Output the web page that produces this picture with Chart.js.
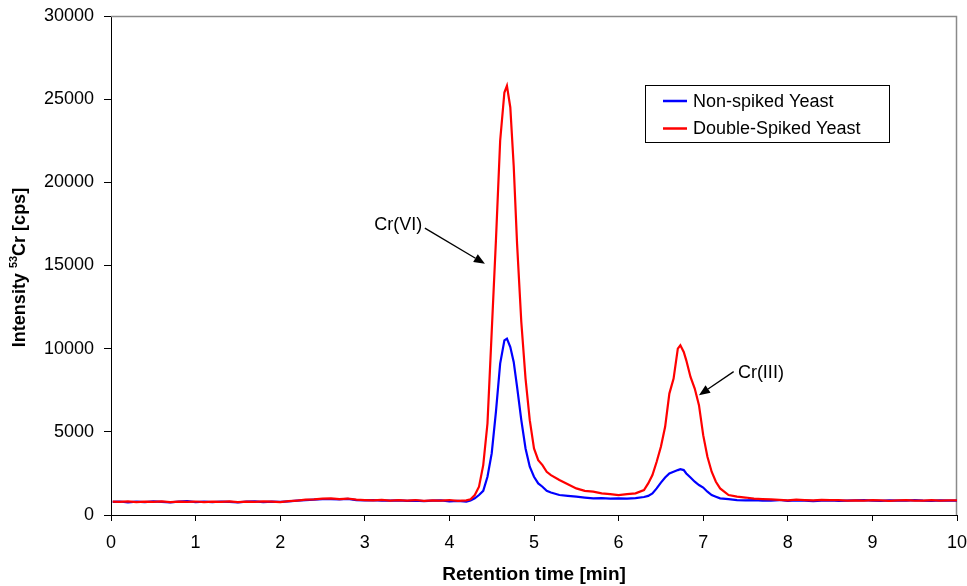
<!DOCTYPE html>
<html>
<head>
<meta charset="utf-8">
<script src="https://cdn.jsdelivr.net/npm/chart.js@4/dist/chart.umd.min.js"></script>
<style>
  html, body { margin: 0; padding: 0; background: #ffffff; }
  #wrap { width: 967px; height: 586px; position: relative; }
</style>
</head>
<body>
<div id="wrap"><canvas id="c" width="967" height="586"></canvas></div>
<script>
// ---- data (retention time in min, intensity in cps) ----
const times = [
  0.02,0.1,0.2,0.3,0.4,0.5,0.6,0.7,0.8,0.9,
  1.0,1.1,1.2,1.3,1.4,1.5,1.6,1.7,1.8,1.9,
  2.0,2.1,2.2,2.3,2.4,2.5,2.6,2.7,2.8,2.9,
  3.0,3.1,3.2,3.3,3.4,3.5,3.6,3.7,3.8,3.9,
  4.0,4.1,4.2,
  4.25,4.3,4.35,4.4,4.45,4.5,4.55,4.6,4.65,4.68,4.72,4.76,
  4.8,4.85,4.9,4.95,5.0,5.05,5.1,5.15,5.2,
  5.3,5.4,5.5,5.6,5.7,5.8,5.9,6.0,6.1,6.2,6.3,
  6.35,6.4,6.45,6.5,6.55,6.6,6.65,6.7,6.73,6.77,6.8,6.85,6.9,6.95,7.0,7.05,7.1,7.15,7.2,7.3,7.4,
  7.5,7.6,7.7,7.8,7.9,8.0,8.1,8.2,8.3,8.4,
  8.5,8.6,8.7,8.8,8.9,9.0,9.1,9.2,9.3,9.4,
  9.5,9.6,9.7,9.8,9.9,10.0
];
const nonSpiked = [
  790,810,760,800,770,820,790,760,800,830,
  780,800,770,810,790,760,800,820,780,800,
  790,820,860,900,920,950,960,940,970,900,
  880,900,870,860,880,850,870,840,860,880,
  820,850,800,
  880,1000,1200,1450,2300,3700,6200,9100,10500,10600,10100,9200,
  7700,5700,4000,2900,2300,1900,1700,1450,1350,
  1200,1150,1100,1050,1000,1020,980,1000,980,1020,1080,
  1150,1300,1600,1950,2250,2500,2600,2700,2750,2700,2500,2250,2000,1800,1650,1400,1200,1100,1000,950,900,
  880,900,860,870,900,850,880,860,840,870,
  880,850,860,880,900,870,850,880,860,870,
  890,860,850,880,870,860
];
const doubleSpiked = [
  800,790,820,780,810,790,820,780,800,790,
  810,770,800,790,820,780,800,790,820,800,
  780,830,870,920,940,980,1000,960,990,920,
  900,880,910,870,890,860,900,850,880,860,
  900,850,880,
  950,1200,1700,3000,5500,11000,16500,22500,25400,25800,24500,21000,
  16300,11600,8200,5700,4000,3300,3000,2600,2400,
  2100,1850,1600,1450,1400,1300,1250,1200,1250,1300,1500,
  1900,2400,3200,4100,5300,7300,8200,10000,10200,9800,9300,8300,7600,6600,4800,3500,2600,2000,1600,1200,1100,
  1050,980,960,940,910,880,920,900,880,910,
  890,900,870,880,860,900,880,850,880,900,
  870,860,890,870,880,880
];
const seriesNames = ['Non-spiked Yeast', 'Double-Spiked Yeast'];
const xTicks = [0,1,2,3,4,5,6,7,8,9,10];
const yTicks = [0,5000,10000,15000,20000,25000,30000];
const xTitle = 'Retention time [min]';
const yTitleParts = ['Intensity ', '53', 'Cr [cps]'];
// annotations: label, text anchor (x,y), arrow start (x,y), arrow tip (x,y)
const annotLabels = ['Cr(VI)', 'Cr(III)'];
const annotText = [[3.68, 17450], [7.41, 8540]];
const annotFrom = [[3.71, 17250], [7.36, 8620]];
const annotTo = [[4.42, 15100], [6.95, 7200]];

const FONT = '"Liberation Sans", Arial, sans-serif';

function toXY(ys) { return ys.map((y, i) => ({ x: times[i], y: y })); }

const framePlugin = {
  id: 'frame',
  beforeDatasetsDraw(chart) {
    const { ctx, chartArea: a } = chart;
    ctx.save();
    ctx.strokeStyle = '#8a8a8a';
    ctx.lineWidth = 1.5;
    ctx.beginPath();
    ctx.moveTo(a.left, a.top + 0.5);
    ctx.lineTo(a.right - 0.5, a.top + 0.5);
    ctx.lineTo(a.right - 0.5, a.bottom);
    ctx.stroke();
    ctx.restore();
  }
};

const extrasPlugin = {
  id: 'extras',
  afterDraw(chart) {
    const { ctx, chartArea: a, scales } = chart;
    const xs = scales.x, ys = scales.y;
    ctx.save();
    // y title with superscript
    ctx.translate(20, (a.top + a.bottom) / 2 + 2);
    ctx.rotate(-Math.PI / 2);
    ctx.fillStyle = '#000';
    ctx.textBaseline = 'middle';
    ctx.textAlign = 'left';
    const big = 'bold 18px ' + FONT, small = 'bold 11px ' + FONT;
    ctx.font = big; const w1 = ctx.measureText(yTitleParts[0]).width;
    ctx.font = small; const w2 = ctx.measureText(yTitleParts[1]).width;
    ctx.font = big; const w3 = ctx.measureText(yTitleParts[2]).width;
    let x0 = -(w1 + w2 + w3) / 2;
    ctx.font = big; ctx.fillText(yTitleParts[0], x0, 0);
    ctx.font = small; ctx.fillText(yTitleParts[1], x0 + w1, -6);
    ctx.font = big; ctx.fillText(yTitleParts[2], x0 + w1 + w2, 0);
    ctx.restore();

    // annotations
    ctx.save();
    ctx.fillStyle = '#000';
    ctx.strokeStyle = '#000';
    ctx.lineWidth = 1.3;
    ctx.font = '18px ' + FONT;
    ctx.textBaseline = 'middle';
    annotLabels.forEach((lab, i) => {
      const tx = xs.getPixelForValue(annotText[i][0]);
      const ty = ys.getPixelForValue(annotText[i][1]);
      ctx.textAlign = i === 0 ? 'right' : 'left';
      ctx.fillText(lab, tx, ty);
      const fx = xs.getPixelForValue(annotFrom[i][0]);
      const fy = ys.getPixelForValue(annotFrom[i][1]);
      const px = xs.getPixelForValue(annotTo[i][0]);
      const py = ys.getPixelForValue(annotTo[i][1]);
      const ang = Math.atan2(py - fy, px - fx);
      const L = 11, W = 4.5;
      const bx = px - L * Math.cos(ang), by = py - L * Math.sin(ang);
      ctx.beginPath();
      ctx.moveTo(fx, fy);
      ctx.lineTo(bx, by);
      ctx.stroke();
      ctx.beginPath();
      ctx.moveTo(px, py);
      ctx.lineTo(bx + W * Math.sin(ang), by - W * Math.cos(ang));
      ctx.lineTo(bx - W * Math.sin(ang), by + W * Math.cos(ang));
      ctx.closePath();
      ctx.fill();
    });
    ctx.restore();

    // legend box
    ctx.save();
    const bl = a.right - 312, bt = a.top + 69, bw = 244, bh = 57;
    ctx.fillStyle = '#fff';
    ctx.fillRect(bl, bt, bw, bh);
    ctx.strokeStyle = '#000';
    ctx.lineWidth = 1;
    ctx.strokeRect(bl + 0.5, bt + 0.5, bw, bh);
    const order = [0, 1];
    order.forEach((di, k) => {
      const ds = chart.data.datasets[di];
      const yy = bt + 16 + k * 27.5;
      ctx.strokeStyle = ds.borderColor;
      ctx.lineWidth = 2.5;
      ctx.beginPath();
      ctx.moveTo(bl + 18, yy);
      ctx.lineTo(bl + 42, yy);
      ctx.stroke();
      ctx.fillStyle = '#000';
      ctx.font = '18px ' + FONT;
      ctx.textAlign = 'left';
      ctx.textBaseline = 'middle';
      ctx.fillText(ds.label, bl + 48, yy + 1);
    });
    ctx.restore();
  }
};

new Chart(document.getElementById('c'), {
  type: 'line',
  data: {
    datasets: [
      { label: seriesNames[0], data: toXY(nonSpiked), borderColor: '#0000ff', borderWidth: 2.2,
        pointRadius: 0, tension: 0, fill: false, order: 1 },
      { label: seriesNames[1], data: toXY(doubleSpiked), borderColor: '#ff0000', borderWidth: 2.2,
        pointRadius: 0, tension: 0, fill: false, order: 0 }
    ]
  },
  options: {
    responsive: false,
    animation: false,
    layout: { padding: { top: 16, right: 10, left: 0, bottom: 0 } },
    plugins: { legend: { display: false }, tooltip: { enabled: false } },
    scales: {
      x: {
        type: 'linear', min: 0, max: 10,
        afterBuildTicks(s) { s.ticks = xTicks.map(v => ({ value: v })); },
        afterFit(s) { s.height = 71; s.paddingLeft = 0; s.paddingRight = 0; },
        ticks: { color: '#000', font: { family: FONT, size: 18 }, padding: 11, maxRotation: 0,
                 callback: v => String(v) },
        grid: { drawOnChartArea: false, drawTicks: true, tickLength: 6, color: '#000' },
        border: { color: '#000', width: 1 },
        title: { display: true, text: xTitle, color: '#000', font: { family: FONT, size: 19, weight: 'bold' }, padding: { top: 4, bottom: 0 } }
      },
      y: {
        type: 'linear', min: 0, max: 30000,
        afterBuildTicks(s) { s.ticks = yTicks.map(v => ({ value: v })); },
        afterFit(s) { s.width = 111; s.paddingTop = 0; s.paddingBottom = 0; },
        ticks: { color: '#000', font: { family: FONT, size: 18 }, padding: 10,
                 callback: v => String(v) },
        grid: { drawOnChartArea: false, drawTicks: true, tickLength: 7, color: '#000' },
        border: { color: '#000', width: 1 }
      }
    }
  },
  plugins: [framePlugin, extrasPlugin]
});
</script>
</body>
</html>
